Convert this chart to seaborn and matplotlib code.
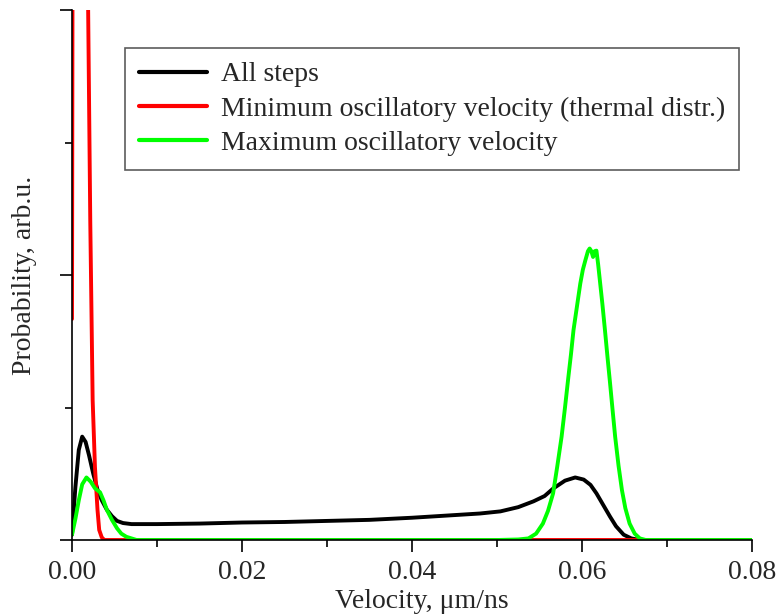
import numpy as np
import pandas as pd
import matplotlib
matplotlib.use("Agg")
import matplotlib.pyplot as plt
import seaborn as sns
from matplotlib.ticker import MultipleLocator

# ---- data (arb. units, y axis 0..1) ----
black_x = [0, 0.0004, 0.0008, 0.0012, 0.0016, 0.002, 0.0025, 0.003, 0.0035, 0.0041,
           0.0047, 0.0053, 0.006, 0.007, 0.008, 0.01, 0.015, 0.02, 0.025, 0.03,
           0.035, 0.04, 0.045, 0.048, 0.0504, 0.0525, 0.0543, 0.0556, 0.0566, 0.058,
           0.0592, 0.0602, 0.061, 0.0617, 0.0625, 0.0633, 0.064, 0.0649, 0.0658,
           0.0668, 0.07, 0.08]
black_y = [0.01, 0.10, 0.17, 0.195, 0.185, 0.16, 0.125, 0.095, 0.075, 0.057,
           0.045, 0.036, 0.032, 0.030, 0.030, 0.030, 0.031, 0.033, 0.034, 0.036,
           0.038, 0.042, 0.047, 0.050, 0.054, 0.062, 0.073, 0.083, 0.097, 0.112,
           0.118, 0.114, 0.104, 0.088, 0.066, 0.044, 0.026, 0.010, 0.003,
           0.0, 0.0, 0.0]

red_x = [0, 0.0002, 0.0006, 0.0012, 0.0017, 0.0019, 0.00215, 0.00243, 0.0027,
         0.003, 0.0032, 0.0035, 0.0038, 0.005, 0.08]
red_y = [0.417, 2.5, 4.0, 3.5, 1.8, 1.0, 0.6, 0.264, 0.138,
         0.057, 0.019, 0.005, 0.0, 0.0, 0.0]

green_x = [0, 0.0004, 0.0008, 0.0012, 0.0017, 0.0022, 0.0027, 0.0033, 0.0037, 0.0041,
           0.0047, 0.0053, 0.0058, 0.0064, 0.007, 0.0076, 0.01, 0.03, 0.05, 0.0525,
           0.0537, 0.0546, 0.0554, 0.056, 0.0566, 0.0571, 0.0576, 0.058, 0.0584,
           0.0587, 0.059, 0.0594, 0.0598, 0.0601, 0.0604, 0.0607, 0.0609, 0.0611,
           0.0613, 0.0615, 0.0617, 0.0619, 0.0621, 0.0624, 0.0627, 0.063, 0.0633,
           0.0636, 0.0639, 0.0643, 0.0647, 0.0651, 0.0656, 0.0662, 0.0668, 0.0675,
           0.07, 0.08]
green_y = [0.01, 0.04, 0.075, 0.105, 0.118, 0.11, 0.0975, 0.09, 0.075, 0.057,
           0.038, 0.022, 0.012, 0.006, 0.003, 0.0, 0.0, 0.0, 0.0, 0.001,
           0.003, 0.012, 0.031, 0.055, 0.088, 0.14, 0.195, 0.25, 0.308,
           0.35, 0.396, 0.44, 0.484, 0.51, 0.528, 0.545, 0.550, 0.545,
           0.534, 0.545, 0.546, 0.52, 0.49, 0.445, 0.396, 0.345, 0.296,
           0.245, 0.195, 0.14, 0.094, 0.06, 0.031, 0.012, 0.003, 0.0,
           0.0, 0.0]

labels = ["All steps", "Minimum oscillatory velocity (thermal distr.)",
          "Maximum oscillatory velocity"]
colors = ["#000000", "#ff0000", "#00ff00"]
x_ticks = [0.00, 0.02, 0.04, 0.06, 0.08]
x_tick_labels = ["0.00", "0.02", "0.04", "0.06", "0.08"]

df = pd.concat([
    pd.DataFrame({"x": black_x, "y": black_y, "series": labels[0]}),
    pd.DataFrame({"x": red_x, "y": red_y, "series": labels[1]}),
    pd.DataFrame({"x": green_x, "y": green_y, "series": labels[2]}),
], ignore_index=True)

sns.set_style("ticks")
plt.rcParams["font.family"] = ["Liberation Serif", "DejaVu Serif"]
plt.rcParams["font.size"] = 20

fig = plt.figure(figsize=(7.8, 6.15), dpi=100)
ax = fig.add_axes([72 / 780, 75 / 615, 680 / 780, 530 / 615])

sns.lineplot(data=df, x="x", y="y", hue="series", hue_order=labels,
             palette=dict(zip(labels, colors)), estimator=None, sort=False,
             linewidth=2.8, ax=ax)

ax.set_xlim(0, 0.08)
ax.set_ylim(0, 1)
ax.set_xticks(x_ticks)
ax.set_xticklabels(x_tick_labels)
ax.xaxis.set_minor_locator(MultipleLocator(0.01))
ax.set_yticks([0, 0.5, 1.0])
ax.yaxis.set_minor_locator(MultipleLocator(0.25))
ax.set_yticklabels([])
ax.tick_params(which="major", direction="out", length=8.5, width=1.2, labelsize=20,
               color="black", pad=6)
ax.tick_params(which="minor", direction="out", length=5, width=1.2, color="black")
for s in ["top", "right"]:
    ax.spines[s].set_visible(False)
for s in ["left", "bottom"]:
    ax.spines[s].set_linewidth(1.2)
    ax.spines[s].set_color("black")

ax.set_xlabel("Velocity, μm/ns", fontsize=20)
ax.xaxis.set_label_coords(0.515, -0.092)
ax.set_ylabel("Probability, arb.u.", fontsize=20)
ax.yaxis.set_label_coords(-0.052, 0.5)

leg = ax.legend(loc="upper left", bbox_to_anchor=(53 / 680, 492 / 530),
                fontsize=20, frameon=True, fancybox=False, edgecolor="#333333",
                handlelength=2.45, handletextpad=0.5, labelspacing=0.32,
                borderpad=0.5, borderaxespad=0, title=None)
leg.get_frame().set_linewidth(1.2)
for line in leg.get_lines():
    line.set_linewidth(3)

fig.savefig("out.png", dpi=100)
